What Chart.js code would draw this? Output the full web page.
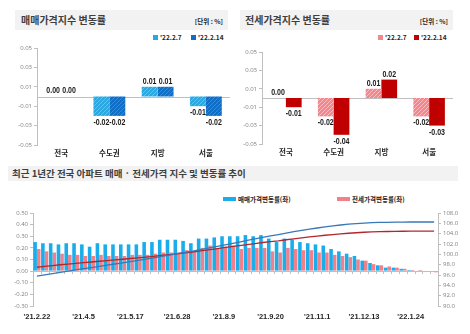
<!DOCTYPE html>
<html>
<head>
<meta charset="utf-8">
<script src="https://cdn.jsdelivr.net/npm/chart.js@4.4.1/dist/chart.umd.min.js"></script>
<style>
body{margin:0;background:#fff;width:470px;height:334px;overflow:hidden;position:relative;font-family:"Noto Sans CJK KR",sans-serif}
.band{position:absolute;background:#f2f2f2}
.ttl{position:absolute;font-weight:bold;color:#3f3f3f;white-space:nowrap}
.unit{position:absolute;font-size:6.5px;font-weight:bold;color:#262626;white-space:nowrap}
.lg{position:absolute;font-size:6.5px;font-weight:bold;color:#262626;white-space:nowrap;line-height:8px}
.lg i{display:inline-block;width:5px;height:5px;margin-right:2px}
.lg b{display:inline-block;width:13px;height:4px;margin-right:2px;vertical-align:1px}
canvas{position:absolute}
</style>
</head>
<body>
<div class="band" style="left:15px;top:10px;width:213px;height:20px"></div>
<div class="ttl" style="left:21px;top:10px;line-height:20px;font-size:10px">매매가격지수 변동률</div>
<div class="unit" style="right:247px;top:11px;line-height:20px">[단위 : %]</div>
<div class="lg" style="left:153px;top:33px"><i style="background:#2ba8e0"></i>'22.2.7</div>
<div class="lg" style="left:191px;top:33px"><i style="background:#0f6fc6"></i>'22.2.14</div>

<div class="band" style="left:240px;top:10px;width:213px;height:20px"></div>
<div class="ttl" style="left:245px;top:10px;line-height:20px;font-size:10px">전세가격지수 변동률</div>
<div class="unit" style="right:22px;top:11px;line-height:20px">[단위 : %]</div>
<div class="lg" style="left:378px;top:33px"><i style="background:#f4868c"></i>'22.2.7</div>
<div class="lg" style="left:414px;top:33px"><i style="background:#c00000"></i>'22.2.14</div>

<div class="band" style="left:8px;top:166px;width:450px;height:15px"></div>
<div class="ttl" style="left:12px;top:166px;line-height:15px;font-size:9.5px">최근 1년간 전국 아파트 매매 · 전세가격 지수 및 변동률 추이</div>
<div class="lg" style="left:223px;top:195px"><b style="background:#1aadea"></b>매매가격변동률(좌)</div>
<div class="lg" style="left:337px;top:195px"><b style="background:#f0808a"></b>전세가격변동률(좌)</div>

<canvas id="c1" width="235" height="125" style="left:0;top:40px"></canvas>
<canvas id="c2" width="235" height="125" style="left:235px;top:40px"></canvas>
<canvas id="c3" width="470" height="149" style="left:0;top:185px"></canvas>

<script>
// weekly change by region
const regions=['전국','수도권','지방','서울'];
const weekA="'22.2.7", weekB="'22.2.14";
const saleChgA=[0.00,-0.02,0.01,-0.01];
const saleChgB=[0.00,-0.02,0.01,-0.02];
const rentChgA=[0.00,-0.02,0.01,-0.02];
const rentChgB=[-0.01,-0.04,0.02,-0.03];

// last 52 weeks, nationwide
const weeks=["'21.2.22","'21.3.1","'21.3.8","'21.3.15","'21.3.22","'21.3.29","'21.4.5","'21.4.12","'21.4.19","'21.4.26",
"'21.5.3","'21.5.10","'21.5.17","'21.5.24","'21.5.31","'21.6.7","'21.6.14","'21.6.21","'21.6.28","'21.7.5",
"'21.7.12","'21.7.19","'21.7.26","'21.8.2","'21.8.9","'21.8.16","'21.8.23","'21.8.30","'21.9.6","'21.9.13",
"'21.9.20","'21.9.27","'21.10.4","'21.10.11","'21.10.18","'21.10.25","'21.11.1","'21.11.8","'21.11.15","'21.11.22",
"'21.11.29","'21.12.6","'21.12.13","'21.12.20","'21.12.27","'22.1.3","'22.1.10","'22.1.17","'22.1.24","'22.1.31",
"'22.2.7","'22.2.14"];
const saleChg=[0.25,0.24,0.24,0.23,0.24,0.24,0.23,0.21,0.24,0.23,0.23,0.23,0.23,0.23,0.25,0.25,0.27,0.27,0.27,0.26,
0.24,0.28,0.28,0.29,0.30,0.30,0.30,0.31,0.30,0.31,0.28,0.25,0.28,0.27,0.25,0.24,0.23,0.22,0.19,0.17,
0.15,0.13,0.09,0.07,0.05,0.03,0.03,0.02,0.01,0.00,0.00,0.00];
const rentChg=[0.19,0.17,0.16,0.15,0.14,0.14,0.13,0.13,0.14,0.13,0.13,0.13,0.14,0.14,0.14,0.15,0.16,0.16,0.16,0.18,
0.17,0.20,0.22,0.20,0.21,0.22,0.19,0.20,0.20,0.20,0.17,0.16,0.20,0.19,0.18,0.18,0.16,0.16,0.14,0.13,
0.12,0.10,0.09,0.06,0.05,0.04,0.03,0.02,0.01,0.01,0.00,-0.01];
const saleIdx=[95.80,96.04,96.28,96.51,96.75,96.99,97.22,97.43,97.67,97.90,98.13,98.36,98.59,98.82,99.07,99.32,99.59,99.86,100.13,100.39,
100.63,100.91,101.19,101.48,101.78,102.08,102.38,102.69,102.99,103.30,103.58,103.83,104.11,104.38,104.63,104.87,105.10,105.32,105.51,105.68,
105.83,105.96,106.05,106.12,106.17,106.20,106.23,106.25,106.26,106.26,106.26,106.26];
const rentIdx=[97.50,97.67,97.83,97.98,98.12,98.26,98.39,98.52,98.66,98.79,98.92,99.05,99.19,99.33,99.47,99.62,99.78,99.94,100.10,100.28,
100.45,100.65,100.87,101.07,101.28,101.50,101.69,101.89,102.09,102.29,102.46,102.62,102.82,103.01,103.19,103.37,103.53,103.69,103.83,103.96,
104.08,104.18,104.27,104.33,104.38,104.42,104.45,104.47,104.48,104.49,104.49,104.48];

const gray='#bfbfbf';
const tickFont={family:'"Open Sans",sans-serif',size:6};

function hatch(base,line){
  const c=document.createElement('canvas');c.width=c.height=4;
  const x=c.getContext('2d');
  x.fillStyle=base;x.fillRect(0,0,4,4);
  x.strokeStyle=line;x.lineWidth=1;
  x.beginPath();x.moveTo(0,4);x.lineTo(4,0);x.moveTo(-1,1);x.lineTo(1,-1);x.moveTo(3,5);x.lineTo(5,3);x.stroke();
  return x.createPattern(c,'repeat');
}

const zeroLine={id:'zeroLine',beforeDatasetsDraw(chart,args,opts){
  const a=chart.chartArea,y=Math.round(chart.scales.y.getPixelForValue(0))+0.5,ctx=chart.ctx;
  ctx.save();ctx.strokeStyle=gray;ctx.lineWidth=1;
  ctx.beginPath();ctx.moveTo(a.left,y);ctx.lineTo(a.right,y);
  if(opts.ticks){
    const xs=chart.scales.x,half=(xs.getPixelForValue(1)-xs.getPixelForValue(0))/2;
    for(let i=0;i<=chart.data.labels.length;i++){
      const px=Math.round(xs.getPixelForValue(i)-half)+0.5;
      ctx.moveTo(px,y);ctx.lineTo(px,y+2.5);
    }
  }
  ctx.stroke();ctx.restore();
}};

// value labels in a condensed bold face
const valueLabels={id:'valueLabels',afterDatasetsDraw(chart){
  const ctx=chart.ctx;
  chart.data.datasets.forEach((ds,i)=>{
    chart.getDatasetMeta(i).data.forEach((bar,j)=>{
      const v=ds.data[j];
      ctx.save();
      ctx.font='bold 9px "Liberation Sans",sans-serif';
      ctx.fillStyle='#1a1a1a';ctx.textAlign='center';
      ctx.translate(bar.x,v<0?bar.y+2:bar.y-1);
      ctx.scale(0.78,1);
      ctx.textBaseline=v<0?'top':'bottom';
      ctx.fillText(v.toFixed(2),0,0);
      ctx.restore();
    });
  });
}};

function fmt(v,d){return Math.abs(v)<1e-9?(0).toFixed(d):v.toFixed(d);}

function regionChart(id,a,b,colA,colB,pad,axisW){
  return new Chart(document.getElementById(id),{
    type:'bar',
    data:{labels:regions,datasets:[
      {label:weekA,data:a,backgroundColor:colA,categoryPercentage:0.66,barPercentage:1},
      {label:weekB,data:b,backgroundColor:colB,categoryPercentage:0.66,barPercentage:1}]},
    options:{responsive:false,animation:false,
      layout:{padding:pad},
      plugins:{legend:{display:false},tooltip:{enabled:false},zeroLine:{}},
      scales:{
        x:{grid:{display:false,drawTicks:false},border:{display:false},
           ticks:{font:{family:'"Noto Sans CJK KR",sans-serif',size:7.5,weight:'bold'},color:'#262626',padding:4},
           afterFit(s){s.height=pad.xh;}},
        y:{min:-0.05,max:0.05,
           ticks:{stepSize:0.01,font:tickFont,color:'#808080',padding:2,callback:v=>fmt(v,2)},
           grid:{drawOnChartArea:false,tickLength:3,color:gray},border:{color:gray},
           afterFit(s){s.width=axisW;}}
      }},
    plugins:[zeroLine,valueLabels]
  });
}

regionChart('c1',saleChgA,saleChgB,hatch('#2ba8e0','#63c3ee'),hatch('#0f6fc6','#3a8bd6'),
  {top:8,left:0,right:5,bottom:0,xh:20},37);
regionChart('c2',rentChgA,rentChgB,hatch('#f4868c','#f9bfc2'),'#c00000',
  {top:12,left:0,right:17,bottom:0,xh:21},27);

new Chart(document.getElementById('c3'),{
  data:{labels:weeks,datasets:[
    {type:'line',label:'매매가격지수(우)',data:saleIdx,yAxisID:'y2',borderColor:'#3878b8',borderWidth:1.3,pointRadius:0,order:0},
    {type:'line',label:'전세가격지수(우)',data:rentIdx,yAxisID:'y2',borderColor:'#b0282e',borderWidth:1.3,pointRadius:0,order:0},
    {type:'bar',label:'매매가격변동률(좌)',data:saleChg,yAxisID:'y',backgroundColor:'#1aadea',categoryPercentage:0.92,barPercentage:1,order:1},
    {type:'bar',label:'전세가격변동률(좌)',data:rentChg,yAxisID:'y',backgroundColor:'#f0808a',categoryPercentage:0.92,barPercentage:1,order:1}]},
  options:{responsive:false,animation:false,
    layout:{padding:{top:28,left:0,right:0,bottom:0}},
    plugins:{legend:{display:false},tooltip:{enabled:false},zeroLine:{ticks:true}},
    scales:{
      x:{grid:{display:false,drawTicks:false},border:{display:false},
         ticks:{autoSkip:false,maxRotation:0,padding:6,color:'#262626',
           font:{family:'"Liberation Sans",sans-serif',size:7.5,weight:'bold'},
           callback:(v,i)=>i%6===0?weeks[i]:''},
         afterFit(s){s.height=28;}},
      y:{position:'left',min:-0.3,max:0.5,
         ticks:{stepSize:0.1,font:tickFont,color:'#808080',padding:2,callback:v=>fmt(v,2)},
         grid:{drawOnChartArea:false,tickLength:3,color:gray},border:{color:gray},
         afterFit(s){s.width=33;}},
      y2:{position:'right',min:90,max:108,
         ticks:{stepSize:2,font:tickFont,color:'#808080',padding:2,callback:v=>fmt(v,1)},
         grid:{drawOnChartArea:false,tickLength:3,color:gray},border:{color:gray},
         afterFit(s){s.width=32;}}
    }},
  plugins:[zeroLine]
});
</script>
</body>
</html>
